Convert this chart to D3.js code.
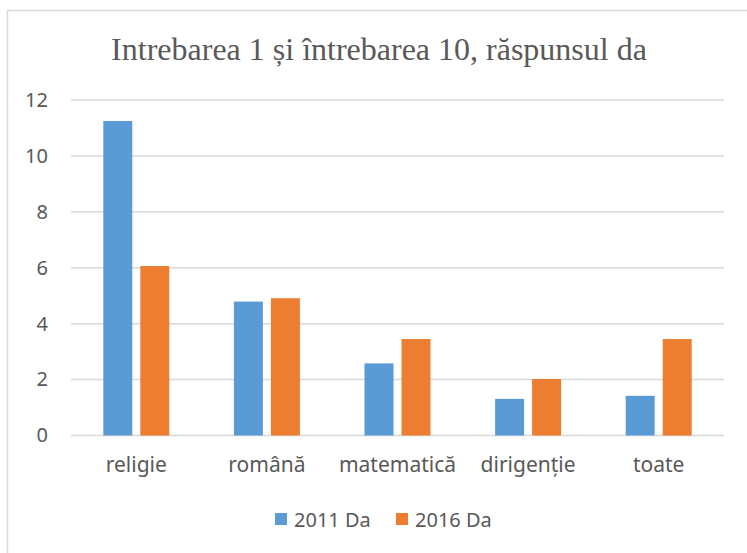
<!DOCTYPE html>
<html>
<head>
<meta charset="utf-8">
<script src="https://cdn.jsdelivr.net/npm/d3@7"></script>
<style>
  body { margin: 0; background: #fff; }
  text { fill: #595959; }
</style>
</head>
<body>
<script>
var categories = ["religie", "română", "matematică", "dirigenție", "toate"];
var seriesNames = ["2011 Da", "2016 Da"];
var values2011 = [11.25, 4.79, 2.58, 1.31, 1.42];
var values2016 = [6.06, 4.91, 3.45, 2.02, 3.45];
var yTicks = [0, 2, 4, 6, 8, 10, 12];
var colors = ["#5b9bd5", "#ed7d31"];

var width = 747, height = 553;
var plotLeft = 71, plotRight = 724, plotTop = 100, plotBottom = 435.5;

var svg = d3.select("body").append("svg")
    .attr("width", width)
    .attr("height", height);

// chart frame
svg.append("rect")
    .attr("x", 7.5).attr("y", 10.5)
    .attr("width", 760).attr("height", 560)
    .attr("fill", "#fff")
    .attr("stroke", "#d9d9d9")
    .attr("stroke-width", 1.5);

svg.append("text")
    .attr("x", 379).attr("y", 60)
    .attr("text-anchor", "middle")
    .style("font-family", "'Liberation Serif', 'Times New Roman', serif")
    .style("font-size", "32px")
    .text("Intrebarea 1 și întrebarea 10, răspunsul da");

var y = d3.scaleLinear().domain([0, 12]).range([plotBottom, plotTop]);
var x0 = d3.scaleBand().domain(categories).range([plotLeft, plotRight]);
var x1 = d3.scaleBand().domain(seriesNames)
    .range([x0.bandwidth() / 2 - 33, x0.bandwidth() / 2 + 33])
    .paddingInner(0.2162);

// gridlines
svg.append("g").selectAll("line")
    .data(yTicks)
    .enter().append("line")
        .attr("x1", plotLeft).attr("x2", plotRight)
        .attr("y1", function(d) { return y(d); })
        .attr("y2", function(d) { return y(d); })
        .attr("stroke", "#d9d9d9")
        .attr("stroke-width", 1.5);

// y tick labels
var yAxis = svg.append("g")
    .attr("transform", "translate(" + (plotLeft - 10) + ",0)")
    .call(d3.axisLeft(y).tickValues(yTicks).tickSize(0).tickPadding(13));
yAxis.select(".domain").remove();
yAxis.selectAll("text")
    .style("font-family", "'Noto Sans', sans-serif")
    .style("font-size", "20px")
    .attr("fill", "#595959");

var rows = categories.map(function(c, i) {
    return { cat: c, vals: [values2011[i], values2016[i]] };
});

var groups = svg.append("g").selectAll("g")
    .data(rows)
    .enter().append("g")
        .attr("transform", function(d) { return "translate(" + x0(d.cat) + ",0)"; });

groups.selectAll("rect")
    .data(function(d) {
        return d.vals.map(function(v, j) { return { s: seriesNames[j], v: v, j: j }; });
    })
    .enter().append("rect")
        .attr("x", function(d) { return x1(d.s); })
        .attr("width", x1.bandwidth())
        .attr("y", function(d) { return y(d.v); })
        .attr("height", function(d) { return y(0) - y(d.v); })
        .attr("fill", function(d) { return colors[d.j]; });

// category labels
var xAxis = svg.append("g")
    .attr("transform", "translate(0," + plotBottom + ")")
    .call(d3.axisBottom(x0).tickSize(0).tickPadding(22));
xAxis.select(".domain").remove();
xAxis.selectAll("text")
    .style("font-family", "'Noto Sans', sans-serif")
    .style("font-size", "21px")
    .attr("fill", "#595959");

// legend
var legendX = [275, 396];
var legend = svg.append("g").selectAll("g")
    .data(seriesNames)
    .enter().append("g")
        .attr("transform", function(d, i) { return "translate(" + legendX[i] + ",513)"; });
legend.append("rect")
    .attr("width", 12).attr("height", 12)
    .attr("fill", function(d, i) { return colors[i]; });
legend.append("text")
    .attr("x", 19).attr("y", 14)
    .style("font-family", "'Noto Sans', sans-serif")
    .style("font-size", "20px")
    .text(function(d) { return d; });
</script>
</body>
</html>
